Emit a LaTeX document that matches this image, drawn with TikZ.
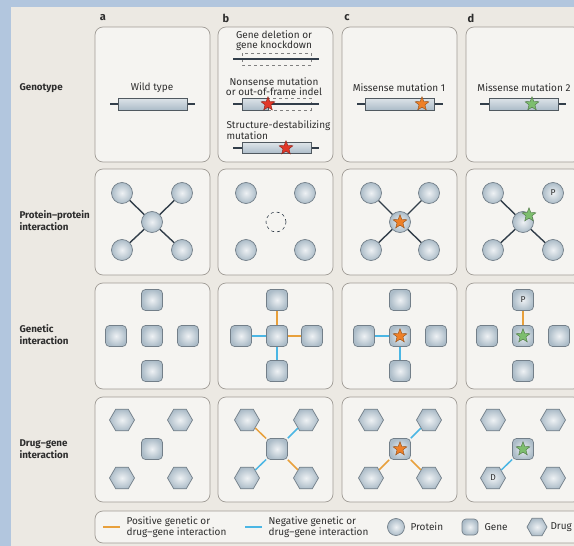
\documentclass[tikz,border=0pt]{standalone}
\usepackage{fontspec}
\setmainfont{Fira Sans}
\usepackage{xcolor}
\usepackage{tikz}
\usetikzlibrary{shapes.geometric}
\definecolor{frameblue}{RGB}{178,198,222}
\definecolor{pagebeige}{RGB}{236,233,227}
\definecolor{panelfill}{RGB}{245,244,241}
\definecolor{panelgray}{RGB}{160,156,150}
\definecolor{nodefill}{RGB}{172,188,200}
\definecolor{nodeedge}{RGB}{115,127,137}
\definecolor{linkgray}{RGB}{50,62,74}
\definecolor{posorange}{RGB}{232,160,60}
\definecolor{negblue}{RGB}{75,182,228}
\definecolor{starorange}{RGB}{238,128,40}
\definecolor{stargreen}{RGB}{125,190,110}
\definecolor{starred}{RGB}{225,55,40}
\definecolor{textgray}{RGB}{45,45,45}

\begin{document}
\begin{tikzpicture}[x=1pt, y=-1pt,
  panel/.style={rounded corners=8pt, draw=panelgray, fill=panelfill,
    line width=0.7pt},
  protein/.style={circle, minimum size=21pt, inner sep=0pt, draw=nodeedge,
    line width=0.7pt, inner color=white!80!nodefill, outer color=nodefill,
    font=\fontsize{8.5}{8.5}\selectfont, text=textgray},
  gene/.style={rectangle, rounded corners=4pt, minimum size=21pt,
    inner sep=0pt, draw=nodeedge, line width=0.7pt,
    inner color=white!80!nodefill, outer color=nodefill,
    font=\fontsize{8.5}{8.5}\selectfont, text=textgray},
  drug/.style={regular polygon, regular polygon sides=6, minimum size=25pt,
    inner sep=0pt, draw=nodeedge, line width=0.7pt,
    inner color=white!80!nodefill, outer color=nodefill,
    font=\fontsize{8.5}{8.5}\selectfont, text=textgray},
  ghost/.style={circle, minimum size=20pt, inner sep=0pt, draw=linkgray,
    dashed, line width=0.6pt},
  bar/.style={rectangle, minimum width=69pt, minimum height=12pt,
    inner sep=0pt, draw=nodeedge!70!black, line width=0.6pt,
    top color=white!60!nodefill, bottom color=nodefill},
  gline/.style={line width=1.3pt, linkgray},
  mut/.style={star, star points=5, star point ratio=2.3, minimum size=14.5pt,
    inner sep=0pt, line width=0.4pt},
  ppi/.style={line width=1.4pt, linkgray},
  poslink/.style={line width=1.5pt, posorange},
  neglink/.style={line width=1.5pt, negblue},
  lab/.style={font=\fontsize{10}{9.6}\selectfont, text=textgray, align=center},
  rowlab/.style={font=\fontsize{9.8}{12}\selectfont\bfseries,
    text=textgray, anchor=west, align=left},
  collab/.style={font=\fontsize{11}{11}\selectfont\bfseries, text=textgray},
]
  \clip (0,0) rectangle (574,546);
  % Background
  \fill[frameblue] (0,0) rectangle (574,546);
  \fill[pagebeige] (11,7) rectangle (590,560);

  % Column and row labels
  \node[collab] at (103,18) {a};
  \node[collab] at (226,18) {b};
  \node[collab] at (347,18) {c};
  \node[collab] at (471,18) {d};
  \node[rowlab] at (16,88) {Genotype};
  \node[rowlab] at (16,221) {Protein--protein\\interaction};
  \node[rowlab] at (16,335) {Genetic\\interaction};
  \node[rowlab] at (16,449) {Drug--gene\\interaction};

  % Panels
  \draw[panel] (95,27) rectangle (210,162);
  \draw[panel] (218,27) rectangle (333,162);
  \draw[panel] (342,27) rectangle (457,162);
  \draw[panel] (466,27) rectangle (581,162);
  \draw[panel] (95,169) rectangle (210,275);
  \draw[panel] (218,169) rectangle (333,275);
  \draw[panel] (342,169) rectangle (457,275);
  \draw[panel] (466,169) rectangle (581,275);
  \draw[panel] (95,283) rectangle (210,389);
  \draw[panel] (218,283) rectangle (333,389);
  \draw[panel] (342,283) rectangle (457,389);
  \draw[panel] (466,283) rectangle (581,389);
  \draw[panel] (95,397) rectangle (210,502);
  \draw[panel] (218,397) rectangle (333,502);
  \draw[panel] (342,397) rectangle (457,502);
  \draw[panel] (466,397) rectangle (581,502);
  \draw[panel] (95,511) rectangle (600,543);

  % Genotype
  \node[lab] at (152,88) {Wild type};
  \draw[gline] (110,104) -- (195,104);
  \node[bar] (wt) at (152.5,104) {};

  \node[lab] at (274,40.5) {Gene deletion or\\gene knockdown};
  \draw[gray, dashed, line width=0.5pt] (242,53) rectangle (311,65);
  \draw[gline] (233,59) -- (319,59);
  \node[lab] at (274,86.5) {Nonsense mutation\\or out-of-frame indel};
  \draw[gray, dashed, line width=0.5pt] (268,98) rectangle (311,110);
  \draw[gline] (233,104) -- (319,104);
  \node[bar, minimum width=26pt] (ns) at (255,104) {};
  \node[mut, fill=starred, draw=starred!60!black] at (268,104) {};
  \node[lab, anchor=west, align=left] at (223,130.5)
    {Structure-destabilizing\\mutation};
  \draw[gline] (233,148) -- (319,148);
  \node[bar, minimum height=11pt] (sd) at (276.5,148) {};
  \node[mut, fill=starred, draw=starred!60!black] at (286,148) {};

  \node[lab] at (399,88) {Missense mutation 1};
  \draw[gline] (357,104) -- (443,104);
  \node[bar] (m1) at (399.5,104) {};
  \node[mut, fill=starorange, draw=starorange!60!black] at (422,104) {};

  \node[lab] at (524,88) {Missense mutation 2};
  \draw[gline] (480,104) -- (566,104);
  \node[bar] (m2) at (523.5,104) {};
  \node[mut, fill=stargreen, draw=stargreen!60!black] at (532,104) {};

  % Protein-protein interaction
  \node[protein] (pa0) at (152,222) {};
  \node[protein] (pa1) at (122,193) {};
  \node[protein] (pa2) at (182,193) {};
  \node[protein] (pa3) at (122,250) {};
  \node[protein] (pa4) at (182,250) {};
  \draw[ppi] (pa0) -- (pa1); \draw[ppi] (pa0) -- (pa2);
  \draw[ppi] (pa0) -- (pa3); \draw[ppi] (pa0) -- (pa4);

  \node[ghost] (pb0) at (276,222) {};
  \node[protein] (pb1) at (246,193) {};
  \node[protein] (pb2) at (305,193) {};
  \node[protein] (pb3) at (246,250) {};
  \node[protein] (pb4) at (305,250) {};

  \node[protein] (pc0) at (400,222) {};
  \node[mut, fill=starorange, draw=starorange!60!black] at (pc0) {};
  \node[protein] (pc1) at (371,193) {};
  \node[protein] (pc2) at (429,193) {};
  \node[protein] (pc3) at (371,250) {};
  \node[protein] (pc4) at (429,250) {};
  \draw[ppi] (pc0) -- (pc1); \draw[ppi] (pc0) -- (pc2);
  \draw[ppi] (pc0) -- (pc3); \draw[ppi] (pc0) -- (pc4);

  \node[protein] (pd0) at (523,222) {};
  \node[protein] (pd1) at (493,193) {};
  \node[protein] (pdP) at (553,193) {P};
  \node[protein] (pd3) at (493,250) {};
  \node[protein] (pd4) at (553,250) {};
  \draw[ppi] (pd0) -- (pd1); \draw[ppi] (pd0) -- (pd3);
  \draw[ppi] (pd0) -- (pd4);
  \node[mut, fill=stargreen, draw=stargreen!60!black] at (529,215) {};

  % Genetic interaction
  \node[gene] (ga0) at (152,336) {};
  \node[gene] (ga1) at (152,300) {};
  \node[gene] (ga2) at (116,336) {};
  \node[gene] (ga3) at (188,336) {};
  \node[gene] (ga4) at (152,371) {};

  \node[gene] (gb0) at (277,336) {};
  \node[gene] (gb1) at (277,300) {};
  \node[gene] (gb2) at (241,336) {};
  \node[gene] (gb3) at (312,336) {};
  \node[gene] (gb4) at (277,371) {};
  \draw[poslink] (gb0) -- (gb1); \draw[poslink] (gb0) -- (gb3);
  \draw[neglink] (gb0) -- (gb2); \draw[neglink] (gb0) -- (gb4);

  \node[gene] (gc0) at (400,336) {};
  \node[mut, fill=starorange, draw=starorange!60!black] at (gc0) {};
  \node[gene] (gc1) at (400,300) {};
  \node[gene] (gc2) at (364,336) {};
  \node[gene] (gc3) at (436,336) {};
  \node[gene] (gc4) at (400,371) {};
  \draw[neglink] (gc0) -- (gc2); \draw[neglink] (gc0) -- (gc4);

  \node[gene] (gd0) at (523,336) {};
  \node[mut, fill=stargreen, draw=stargreen!60!black] at (gd0) {};
  \node[gene] (gdP) at (523,300) {P};
  \node[gene] (gd2) at (487,336) {};
  \node[gene] (gd3) at (559,336) {};
  \node[gene] (gd4) at (523,371) {};
  \draw[poslink] (gd0) -- (gdP);

  % Drug-gene interaction
  \node[gene] (da0) at (152,449) {};
  \node[drug] (da1) at (122,420) {};
  \node[drug] (da2) at (180,420) {};
  \node[drug] (da3) at (122,478) {};
  \node[drug] (da4) at (180,478) {};

  \node[gene] (db0) at (277,449) {};
  \node[drug] (db1) at (247,420) {};
  \node[drug] (db2) at (306,420) {};
  \node[drug] (db3) at (247,478) {};
  \node[drug] (db4) at (306,478) {};
  \draw[poslink] (db0) -- (db1); \draw[poslink] (db0) -- (db4);
  \draw[neglink] (db0) -- (db2); \draw[neglink] (db0) -- (db3);

  \node[gene] (dc0) at (400,449) {};
  \node[mut, fill=starorange, draw=starorange!60!black] at (dc0) {};
  \node[drug] (dc1) at (371,420) {};
  \node[drug] (dc2) at (429,420) {};
  \node[drug] (dc3) at (371,478) {};
  \node[drug] (dc4) at (429,478) {};
  \draw[neglink] (dc0) -- (dc2);
  \draw[poslink] (dc0) -- (dc3); \draw[poslink] (dc0) -- (dc4);

  \node[gene] (dd0) at (523,449) {};
  \node[mut, fill=stargreen, draw=stargreen!60!black] at (dd0) {};
  \node[drug] (dd1) at (493,420) {};
  \node[drug] (dd2) at (553,420) {};
  \node[drug] (ddD) at (493,478) {D};
  \node[drug] (dd4) at (553,478) {};
  \draw[neglink] (dd0) -- (ddD);

  % Legend
  \draw[poslink] (103,527) -- (120,527);
  \node[lab, anchor=west, align=left] at (123,527)
    {Positive genetic or\\drug--gene interaction};
  \draw[neglink] (245,527) -- (262,527);
  \node[lab, anchor=west, align=left] at (265,527)
    {Negative genetic or\\drug--gene interaction};
  \node[protein, minimum size=17pt] (kp) at (396,527) {};
  \node[lab, anchor=west] at (407,527) {Protein};
  \node[gene, minimum size=16pt] (kg) at (470,527) {};
  \node[lab, anchor=west] at (481,527) {Gene};
  \node[drug, minimum size=20pt] (kd) at (537,527) {};
  \node[lab, anchor=west] at (547,527) {Drug};
\end{tikzpicture}
\end{document}
